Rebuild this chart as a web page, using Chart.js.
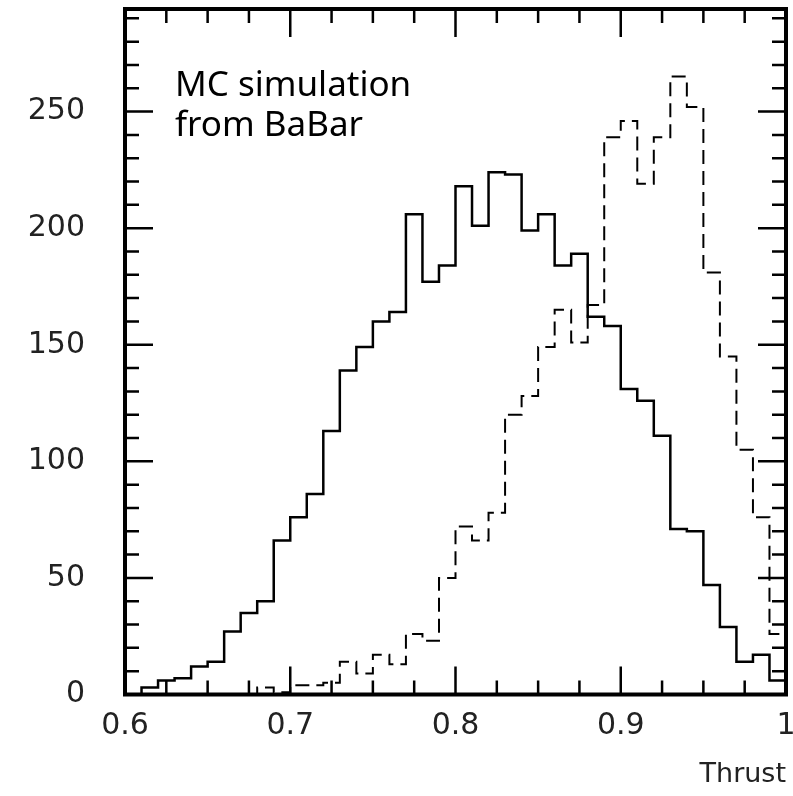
<!DOCTYPE html>
<html>
<head>
<meta charset="utf-8">
<script src="https://cdn.jsdelivr.net/npm/chart.js@4"></script>
<style>
  html, body { margin: 0; padding: 0; background: #fff; }
</style>
</head>
<body>
<canvas id="thrustChart" width="793" height="796"></canvas>
<script>
// Thrust histograms, 40 bins of 0.01 between 0.6 and 1
const binEdges = [
  0.60, 0.61, 0.62, 0.63, 0.64, 0.65, 0.66, 0.67, 0.68, 0.69,
  0.70, 0.71, 0.72, 0.73, 0.74, 0.75, 0.76, 0.77, 0.78, 0.79,
  0.80, 0.81, 0.82, 0.83, 0.84, 0.85, 0.86, 0.87, 0.88, 0.89,
  0.90, 0.91, 0.92, 0.93, 0.94, 0.95, 0.96, 0.97, 0.98, 0.99, 1.00
]
const solidCounts = [
  0, 3, 6, 7, 12, 14, 27, 35, 40, 66,
  76, 86, 113, 139, 149, 160, 164, 206, 177, 184,
  218, 201, 224, 223, 199, 206, 184, 189, 162, 158,
  131, 126, 111, 71, 70, 47, 29, 14, 17, 6
]
const dashedCounts = [
  0, 0, 0, 0, 0, 0, 0, 0, 3, 1,
  4, 4, 5, 14, 9, 17, 13, 26, 23, 50,
  72, 66, 78, 120, 128, 149, 165, 151, 167, 239,
  246, 219, 239, 265, 252, 181, 145, 105, 76, 26
]
const xTickValues = [0.6, 0.7, 0.8, 0.9, 1]
const yTickValues = [0, 50, 100, 150, 200, 250]
const noteLines = ['MC simulation', 'from BaBar']

// one point per right bin edge, drawn as steps
function toSteps(counts) {
  const pts = [{ x: binEdges[0], y: 0 }]
  counts.forEach((c, i) => pts.push({ x: binEdges[i + 1], y: c }))
  return pts
}

const frameAndTicks = {
  id: 'frameAndTicks',
  afterDatasetsDraw(chart) {
    const { ctx, chartArea: a, scales: { x, y } } = chart
    ctx.save()
    ctx.strokeStyle = '#000'
    ctx.lineWidth = 2.5
    ctx.beginPath()
    for (let i = 0; i <= 16; i++) {
      const px = x.getPixelForValue(0.6 + i * 0.025)
      const len = i % 4 === 0 ? 28 : 14
      ctx.moveTo(px, a.bottom); ctx.lineTo(px, a.bottom - len)
      ctx.moveTo(px, a.top); ctx.lineTo(px, a.top + len)
    }
    for (let v = 0; v <= 290; v += 10) {
      const py = y.getPixelForValue(v)
      const len = v % 50 === 0 ? 28 : 14
      ctx.moveTo(a.left, py); ctx.lineTo(a.left + len, py)
      ctx.moveTo(a.right, py); ctx.lineTo(a.right - len, py)
    }
    ctx.stroke()
    ctx.lineWidth = 4
    ctx.strokeRect(a.left, a.top, a.right - a.left, a.bottom - a.top)

    ctx.fillStyle = '#000'
    ctx.font = '35px "Comic Sans MS", "Noto Sans"'
    ctx.textBaseline = 'alphabetic'
    ctx.fillText(noteLines[0], 175, 96)
    ctx.fillText(noteLines[1], 175, 136)
    ctx.restore()
  }
}

const tickFont = { family: '"DejaVu Sans", sans-serif', size: 30, lineHeight: 0.5 }
const titleFont = { family: '"DejaVu Sans", sans-serif', size: 27 }

new Chart(document.getElementById('thrustChart'), {
  type: 'line',
  data: {
    datasets: [
      {
        data: toSteps(solidCounts),
        stepped: 'after',
        borderColor: '#000',
        borderWidth: 2.5,
        pointRadius: 0,
        fill: false
      },
      {
        data: toSteps(dashedCounts),
        stepped: 'after',
        borderColor: '#000',
        borderWidth: 2,
        borderDash: [14, 7],
        pointRadius: 0,
        fill: false
      }
    ]
  },
  options: {
    responsive: false,
    animation: false,
    layout: { padding: { top: 9, right: 7, left: 0, bottom: 0 } },
    plugins: {
      legend: { display: false },
      tooltip: { enabled: false }
    },
    scales: {
      x: {
        type: 'linear',
        min: 0.6,
        max: 1,
        // grid hidden, tickLength only offsets the labels
        grid: { display: false, drawTicks: true, tickLength: 27 },
        border: { display: false },
        afterBuildTicks: s => { s.ticks = xTickValues.map(v => ({ value: v })) },
        afterFit: s => { s.height = 101.5 },
        ticks: {
          autoSkip: false,
          maxRotation: 0,
          padding: -3,
          color: '#222',
          font: tickFont,
          callback: v => (v === 1 ? '1' : v.toFixed(1))
        },
        title: {
          display: true,
          text: 'Thrust',
          align: 'end',
          color: '#222',
          font: titleFont,
          padding: { top: 0, bottom: 5 }
        }
      },
      y: {
        min: 0,
        max: 294,
        grid: { display: false, drawTicks: true, tickLength: 40 },
        border: { display: false },
        afterBuildTicks: s => { s.ticks = yTickValues.map(v => ({ value: v })) },
        afterFit: s => { s.width = 125 },
        ticks: {
          padding: 0,
          color: '#222',
          font: tickFont
        }
      }
    }
  },
  plugins: [frameAndTicks]
})
</script>
</body>
</html>
